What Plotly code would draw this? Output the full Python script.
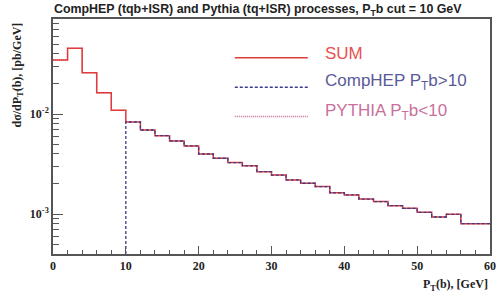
import plotly.graph_objects as go

# bin edges (GeV) and values (pb/GeV)
bin_edges = [0, 2, 4, 6, 8, 10, 12, 14, 16, 18, 20, 22, 24, 26, 28, 30,
             32, 34, 36, 38, 40, 42, 44, 46, 48, 50, 52, 54, 56, 58, 60]
sum_values = [0.0347, 0.0454, 0.0259, 0.0163, 0.0109,
              0.00832, 0.00692, 0.00607, 0.00537, 0.00479,
              0.00398, 0.00361, 0.00327, 0.00303, 0.00265,
              0.00245, 0.00219, 0.00203, 0.00188, 0.00163,
              0.00155, 0.00141, 0.00133, 0.00121, 0.00114,
              0.00104, 0.000933, 0.000993, 0.00080, 0.00080]
pt_cut = 10

x_ticks = [0, 10, 20, 30, 40, 50, 60]
y_ticks = [0.001, 0.01]
y_ticktext = ["10<sup>-3</sup>", "10<sup>-2</sup>"]

serif = "Liberation Serif, Times New Roman, serif"
sans = "Liberation Sans, Arial, sans-serif"

# split into Pythia (below cut) and CompHEP (above cut)
n_cut = bin_edges.index(pt_cut)
pyth_x = bin_edges[:n_cut + 1]
pyth_y = sum_values[:n_cut] + [sum_values[n_cut - 1]]
comp_x = [pt_cut] + bin_edges[n_cut:]
comp_y = [1e-6] + sum_values[n_cut:] + [sum_values[-1]]

fig = go.Figure()
fig.add_trace(go.Scatter(x=pyth_x, y=pyth_y, mode="lines", line_shape="hv",
                         line=dict(color="#c86a96", width=1.2, dash="1px,1px"),
                         showlegend=False))
fig.add_trace(go.Scatter(x=bin_edges, y=sum_values + [sum_values[-1]], mode="lines",
                         line_shape="hv", line=dict(color="#e03a3a", width=1.5),
                         showlegend=False))
fig.add_trace(go.Scatter(x=comp_x, y=comp_y, mode="lines", line_shape="hv",
                         line=dict(color="#3a3a8c", width=1.3, dash="3px,2px"),
                         showlegend=False))

minor_y = [k * 10 ** e for e in (-4, -3, -2) for k in range(2, 10)]

fig.update_layout(
    width=500, height=298,
    margin=dict(l=53, r=10, t=19, b=44),
    paper_bgcolor="white", plot_bgcolor="white",
    xaxis=dict(range=[0, 60], showgrid=False, zeroline=False, automargin=False,
               showline=True, linecolor="#555", linewidth=1.5, mirror=True,
               ticks="inside", ticklen=8, tickcolor="#555", tickwidth=1.2,
               tickvals=x_ticks,
               tickfont=dict(family=serif, size=12, color="#222", weight="bold"),
               minor=dict(ticks="inside", ticklen=4, dtick=2, tickcolor="#555", showgrid=False)),
    yaxis=dict(type="log", range=[-3.4, -1.05], showgrid=False, zeroline=False, automargin=False,
               showline=True, linecolor="#555", linewidth=1.5, mirror=True,
               ticks="inside", ticklen=10, tickcolor="#555", tickwidth=1.2,
               tickvals=y_ticks, ticktext=y_ticktext,
               tickfont=dict(family=serif, size=12, color="#222", weight="bold"),
               minor=dict(ticks="inside", ticklen=6, tickvals=minor_y, tickcolor="#555", showgrid=False)),
)

# chart title
fig.add_annotation(text="<b>CompHEP (tqb+ISR) and Pythia (tq+ISR) processes, P<sub>T</sub>b cut = 10 GeV</b>",
                   xref="paper", yref="paper", x=0.469, y=1.038, xanchor="center", yanchor="middle",
                   showarrow=False, font=dict(family=sans, size=12.4, color="#222"))

# axis titles
fig.add_annotation(text="<b>dσ/dP<sub>T</sub>(b), [pb/GeV]</b>", textangle=-90,
                   xref="paper", yref="paper", x=-0.08, y=0.76, xanchor="center", yanchor="middle",
                   showarrow=False, font=dict(family=serif, size=12, color="#222"))
fig.add_annotation(text="<b>P<sub>T</sub>(b), [GeV]</b>",
                   xref="paper", yref="paper", x=1.0, y=-0.09, xanchor="right", yanchor="top",
                   showarrow=False, font=dict(family=serif, size=12, color="#222"))

# legend drawn manually
legend_items = [("SUM", "#e03a3a", "solid", "#e85050"),
                ("CompHEP P<sub>T</sub>b&gt;10", "#3a3a8c", "3px,2px", "#5a5a9a"),
                ("PYTHIA P<sub>T</sub>b&lt;10", "#c86a96", "1px,1px", "#c8709a")]
leg_y = [0.855, 0.73, 0.605]
for (lab, lc, dash, tc), yy in zip(legend_items, leg_y):
    fig.add_shape(type="line", xref="paper", yref="paper",
                  x0=0.416, x1=0.583, y0=yy - 0.02, y1=yy - 0.02,
                  line=dict(color=lc, width=1.5, dash=dash))
    fig.add_annotation(text=lab, xref="paper", yref="paper", x=0.617, y=yy,
                       xanchor="left", yanchor="middle", showarrow=False,
                       font=dict(family=sans, size=17, color=tc))

# remove the default page margin so the figure fills the 500x298 window
fig.write_html("out.html", config={"displayModeBar": False},
               post_script="document.body.style.margin='0';")
